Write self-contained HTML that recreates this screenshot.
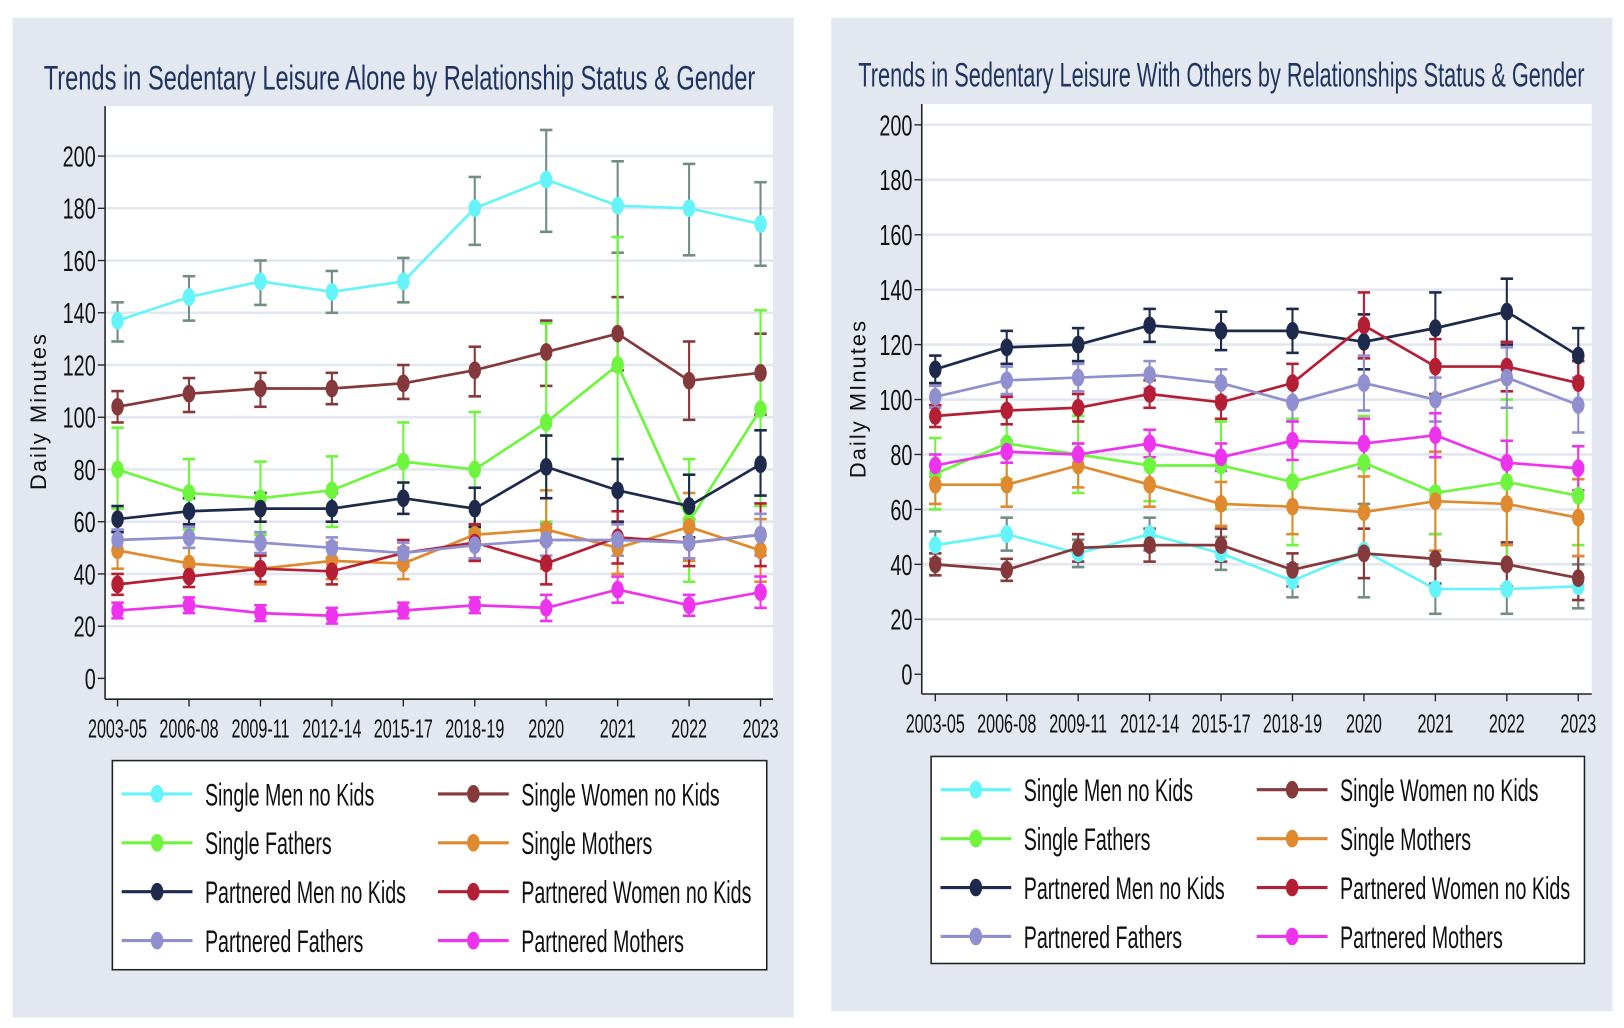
<!DOCTYPE html>
<html><head><meta charset="utf-8"><style>
html,body{margin:0;padding:0;background:#fff;}
svg{display:block;}
text{font-family:"Liberation Sans",sans-serif;}
</style></head><body>
<svg id="s" width="1624" height="1028" viewBox="0 0 1561 988" preserveAspectRatio="none" xmlns="http://www.w3.org/2000/svg">
<rect x="0" y="0" width="1561" height="988" fill="#fff"/>
<rect x="12" y="17" width="751" height="961" fill="#e2e7f0"/>
<rect x="799" y="17" width="751" height="955" fill="#e2e7f0"/>
<text x="384" y="86" font-size="33" fill="#1f3460" text-anchor="middle" textLength="684" lengthAdjust="spacingAndGlyphs">Trends in Sedentary Leisure Alone by Relationship Status &amp; Gender</text>
<text x="1174" y="83" font-size="33" fill="#1f3460" text-anchor="middle" textLength="698" lengthAdjust="spacingAndGlyphs">Trends in Sedentary Leisure With Others by Relationships Status &amp; Gender</text>
<g id="g"></g>
</svg>
<script>
var NS="http://www.w3.org/2000/svg",G=document.getElementById('g');
function el(t,a,txt){var e=document.createElementNS(NS,t);for(var k in a)e.setAttribute(k,a[k]);if(txt!==undefined)e.textContent=txt;G.appendChild(e);return e;}
var C={sm:'#66f4fb',sw:'#86393a',sf:'#6ef53e',smo:'#df8a2e',pm:'#1e2a4c',pw:'#b41f35',pf:'#9090d0',pmo:'#ee33ee'};
var EC={sm:'#738c84'};
var names=[['sm','Single Men no Kids'],['sw','Single Women no Kids'],['sf','Single Fathers'],['smo','Single Mothers'],['pm','Partnered Men no Kids'],['pw','Partnered Women no Kids'],['pf','Partnered Fathers'],['pmo','Partnered Mothers']];
var xl=['2003-05','2006-08','2009-11','2012-14','2015-17','2018-19','2020','2021','2022','2023'];
function E(a,d){return a.map(function(v,i){return [v-(Array.isArray(d)?d[i]:d),v+(Array.isArray(d)?d[i]:d)];});}
var L={
sm:[[137,146,152,148,152,180,191,181,180,174],[[129,144],[137,154],[143,160],[140,156],[144,161],[166,192],[171,210],[163,198],[162,197],[158,190]]],
sw:[[104,109,111,111,113,118,125,132,114,117],[[98,110],[102,115],[104,117],[105,117],[107,120],[108,127],[112,137],[118,146],[99,129],[101,132]]],
sf:[[80,71,69,72,83,80,98,120,60,103],[[65,96],[57,84],[55,83],[58,85],[68,98],[57,102],[60,136],[71,169],[37,84],[66,141]]],
smo:[[49,44,42,45,44,55,57,50,58,49],E([49,44,42,45,44,55,57,50,58,49],[7,6,6,7,6,10,15,10,13,12])],
pm:[[61,64,65,65,69,65,81,72,66,82],[[56,66],[59,69],[60,71],[60,71],[63,75],[58,73],[69,93],[60,84],[54,78],[70,95]]],
pw:[[36,39,42,41,48,52,44,54,52,55],E([36,39,42,41,48,52,44,54,52,55],[4,4,5,5,5,7,8,10,9,12])],
pf:[[53,54,52,50,48,51,53,53,52,55],E([53,54,52,50,48,51,53,53,52,55],[4,4,4,4,4,5,6,6,6,8])],
pmo:[[26,28,25,24,26,28,27,34,28,33],E([26,28,25,24,26,28,27,34,28,33],[3,3,3,3,3,3,5,5,4,6])]
};
var R={
sm:[[47,51,44,51,44,34,45,31,31,32],E([47,51,44,51,44,34,45,31,31,32],[5,6,5,6,6,6,17,9,9,8])],
sw:[[40,38,46,47,47,38,44,42,40,35],E([40,38,46,47,47,38,44,42,40,35],[4,4,5,6,6,6,9,9,8,8])],
sf:[[73,84,80,76,76,70,77,66,70,65],E([73,84,80,76,76,70,77,66,70,65],[13,13,14,13,16,23,17,15,30,18])],
smo:[[69,69,76,69,62,61,59,63,62,57],E([69,69,76,69,62,61,59,63,62,57],[7,8,8,8,8,10,13,18,15,14])],
pm:[[111,119,120,127,125,125,121,126,132,116],E([111,119,120,127,125,125,121,126,132,116],[5,6,6,6,7,8,10,13,12,10])],
pw:[[94,96,97,102,99,106,127,112,112,106],E([94,96,97,102,99,106,127,112,112,106],[4,5,5,5,6,7,12,10,9,8])],
pf:[[101,107,108,109,106,99,106,100,108,98],E([101,107,108,109,106,99,106,100,108,98],[4,5,5,5,5,7,10,8,11,10])],
pmo:[[76,81,80,84,79,85,84,87,77,75],E([76,81,80,84,79,85,84,87,77,75],[4,4,4,5,5,7,9,8,8,8])]
};
function narrow(x,y,s,size,anchor,sx){return el('text',{x:0,y:0,'font-size':size,fill:'#111','text-anchor':anchor||'start',transform:'translate('+x+','+y+') scale('+(sx||0.7)+',1)'},s);}
function chart(o){
 el('rect',{x:o.L,y:o.T,width:o.R-o.L,height:o.B-o.T,fill:'#fff'});
 function Y(v){return o.y0+(o.y200-o.y0)*v/200;}
 function X(i){return o.x0+i*68.67;}
 for(var v=0;v<=200;v+=20){
  if(v>0)el('line',{x1:o.L+1,x2:o.R,y1:Y(v),y2:Y(v),stroke:'#e3e7f0','stroke-width':2.5});
  el('line',{x1:o.L-7,x2:o.L,y1:Y(v),y2:Y(v),stroke:'#222','stroke-width':1.3});
  narrow(o.L-9,Y(v)+10,String(v),28,'end',0.68);
 }
 el('line',{x1:o.L,x2:o.L,y1:o.T,y2:o.B,stroke:'#222','stroke-width':1.5});
 el('line',{x1:o.L,x2:o.R,y1:o.B,y2:o.B,stroke:'#222','stroke-width':1.5});
 for(var i=0;i<10;i++){el('line',{x1:X(i),x2:X(i),y1:o.B,y2:o.B+7,stroke:'#222','stroke-width':1.3});narrow(X(i),o.B+37,xl[i],25,'middle',0.62);}
 el('text',{x:0,y:0,'font-size':21,fill:'#111','text-anchor':'middle',transform:'translate('+o.ytx+','+o.yty+') rotate(-90)','letter-spacing':'2'},o.yt);
 names.forEach(function(n){var k=n[0],d=o.D[k],c=C[k],ec=EC[k]||c;
  d[1].forEach(function(ci,i){var x=X(i);el('line',{x1:x,x2:x,y1:Y(ci[0]),y2:Y(ci[1]),stroke:ec,'stroke-width':2});
   el('line',{x1:x-6,x2:x+6,y1:Y(ci[0]),y2:Y(ci[0]),stroke:ec,'stroke-width':2.5});el('line',{x1:x-6,x2:x+6,y1:Y(ci[1]),y2:Y(ci[1]),stroke:ec,'stroke-width':2.5});});
 });
 names.forEach(function(n){var k=n[0],d=o.D[k],c=C[k];
  el('polyline',{points:d[0].map(function(v,i){return X(i)+','+Y(v);}).join(' '),fill:'none',stroke:c,'stroke-width':2.6});
  d[0].forEach(function(v,i){el('ellipse',{cx:X(i),cy:Y(v),rx:6,ry:8.5,fill:c});});
 });
 el('rect',{x:o.lx,y:o.ly,width:o.lw,height:o.lh,fill:'#fff',stroke:'#222','stroke-width':1.5});
 names.forEach(function(n,j){var col=j%2,row=Math.floor(j/2);var bx=o.lx+9+col*304,by=o.ly+32+row*47;
  el('line',{x1:bx,x2:bx+68,y1:by,y2:by,stroke:C[n[0]],'stroke-width':3});
  el('ellipse',{cx:bx+34,cy:by,rx:6,ry:8.5,fill:C[n[0]]});
  narrow(bx+80,by+11,n[1],30,'start',0.63);
 });
}
chart({L:101,R:743,T:102,B:672,y0:652,y200:150,x0:113,D:L,yt:'Daily Minutes',ytx:44,yty:395,lx:108,ly:731,lw:629,lh:201});
chart({L:886,R:1530,T:100,B:667,y0:648,y200:120,x0:899,D:R,yt:'Daily MInutes',ytx:832,yty:383,lx:895,ly:727,lw:628,lh:199});
</script>
</body></html>
